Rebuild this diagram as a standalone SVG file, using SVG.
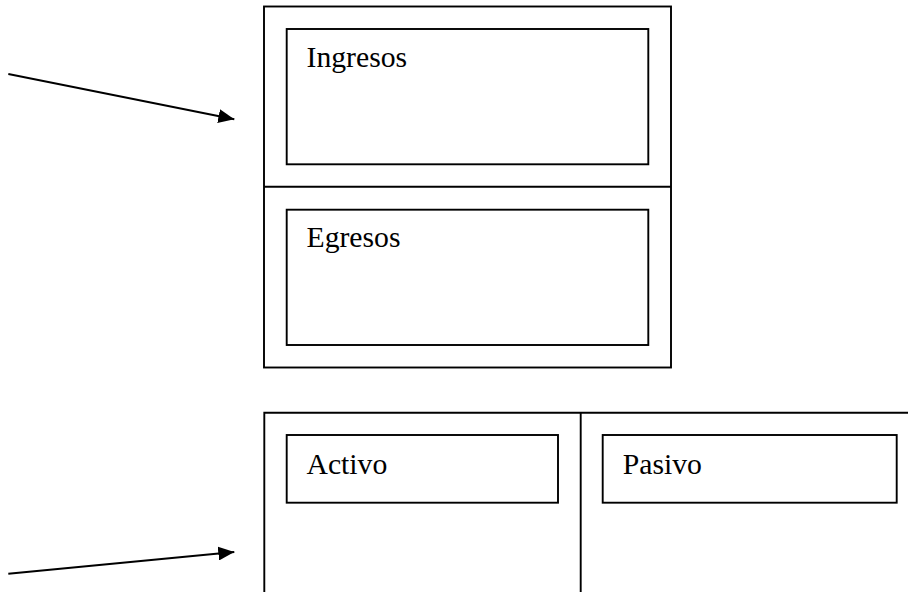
<svg xmlns="http://www.w3.org/2000/svg" width="908" height="592" viewBox="0 0 908 592">
<style>
.box{fill:none;stroke:#000;stroke-width:1.9}
.lbl{font-family:"Liberation Serif","Times New Roman",serif;font-size:29.7px;fill:#000}
.conn{stroke:#000;stroke-width:1.9;fill:none}
</style>
<defs>
<marker id="ah" viewBox="0 0 16 14" refX="16" refY="7" markerWidth="16" markerHeight="14" markerUnits="userSpaceOnUse" orient="auto">
<path d="M0,0 L16,7 L0,14 z" fill="#000"/>
</marker>
</defs>
<g id="resultados">
<rect class="box" x="264" y="6.5" width="407" height="361"/>
<line class="box" x1="264" y1="186.7" x2="671" y2="186.7"/>
</g>
<g id="ingresos">
<rect class="box" x="286.7" y="29" width="361.6" height="135.3"/>
<text class="lbl" x="306.5" y="66.7">Ingresos</text>
</g>
<g id="egresos">
<rect class="box" x="286.7" y="209.7" width="361.6" height="135.3"/>
<text class="lbl" x="306.5" y="247.3">Egresos</text>
</g>
<g id="balance">
<path class="box" d="M264.3,600 L264.3,412.7 L915,412.7 M580.7,412.7 L580.7,600"/>
</g>
<g id="activo">
<rect class="box" x="286.7" y="435" width="271.3" height="67.7"/>
<text class="lbl" x="306.5" y="474">Activo</text>
</g>
<g id="pasivo">
<rect class="box" x="602.7" y="435" width="294" height="67.7"/>
<text class="lbl" x="622.7" y="474">Pasivo</text>
</g>
<g id="connectors">
<line class="conn" x1="8.3" y1="74" x2="234.3" y2="119.3" marker-end="url(#ah)"/>
<line class="conn" x1="8.3" y1="573.7" x2="234.3" y2="552" marker-end="url(#ah)"/>
</g>
</svg>
